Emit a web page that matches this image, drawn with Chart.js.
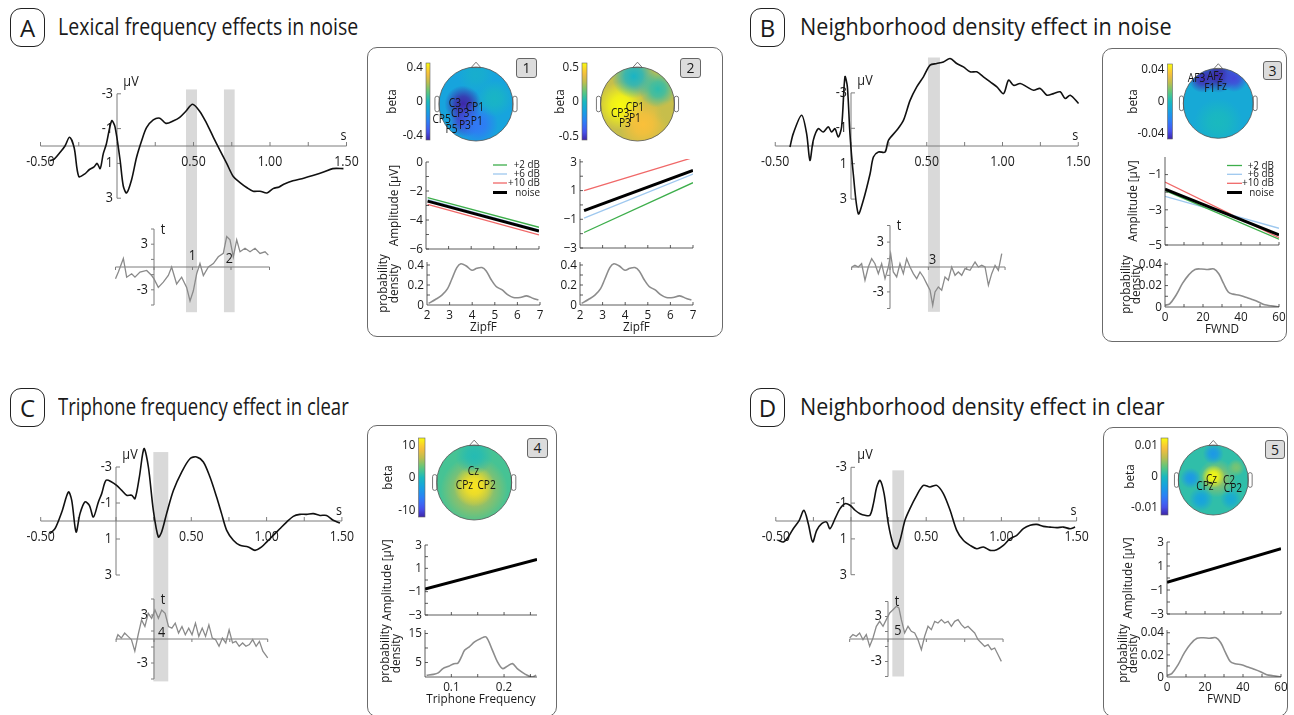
<!DOCTYPE html>
<html>
<head>
<meta charset="utf-8">
<title>ERP regression effects</title>
<script src="https://cdn.jsdelivr.net/npm/chart.js@4.4.1/dist/chart.umd.min.js"></script>
<style>
  body { margin: 0; width: 1294px; height: 715px; position: relative; overflow: hidden; background: #fff; font-family: "Open Sans", sans-serif; color: #1a1a1a; }
  canvas { position: absolute; }
  .tag { position: absolute; width: 33px; height: 37px; border: 1.4px solid #222; border-radius: 11px; font-size: 24px; line-height: 37px; text-align: center; }
  .title { position: absolute; font-size: 24px; line-height: 24px; white-space: nowrap; transform-origin: 0 50%; }
  .inset { position: absolute; border: 1.3px solid #6b6b6b; border-radius: 10px; }
  .num { position: absolute; z-index: 5; background: #dcdcdc; border: 1px solid #666; border-radius: 3px; font-size: 14px; line-height: 18px; text-align: center; }
</style>
</head>
<body>
<div class="tag" style="left:10px;top:8px">A</div>
<div class="title" id="tA" style="left:58px;top:14px">Lexical frequency effects in noise</div>
<div class="tag" style="left:750px;top:8px">B</div>
<div class="title" id="tB" style="left:800px;top:14px">Neighborhood density effect in noise</div>
<div class="tag" style="left:10px;top:388px">C</div>
<div class="title" id="tC" style="left:58px;top:394px">Triphone frequency effect in clear</div>
<div class="tag" style="left:750px;top:388px">D</div>
<div class="title" id="tD" style="left:800px;top:394px">Neighborhood density effect in clear</div>

<div class="inset" style="left:367px;top:47px;width:354px;height:288px"></div>
<div class="inset" style="left:1102px;top:48px;width:183px;height:292px"></div>
<div class="inset" style="left:367px;top:425px;width:188px;height:290px"></div>
<div class="inset" style="left:1103px;top:427px;width:183px;height:288px"></div>

<div class="num" style="left:516px;top:58px;width:19px;height:18px">1</div>
<div class="num" style="left:680px;top:58px;width:19px;height:18px">2</div>
<div class="num" style="left:1263px;top:61px;width:17px;height:17px">3</div>
<div class="num" style="left:527px;top:438px;width:19px;height:18px">4</div>
<div class="num" style="left:1265px;top:440px;width:18px;height:17px">5</div>

<script>
// ---------------- data ----------------
// ERP waveforms (s, µV)
const erpTimeA = [-0.44,-0.41,-0.37,-0.34,-0.31,-0.28,-0.25,-0.21,-0.18,-0.15,-0.13,-0.11,-0.09,-0.07,-0.035,-0.013,0.02,0.041,0.063,0.095,0.128,0.161,0.193,0.237,0.28,0.32,0.37,0.41,0.45,0.494,0.54,0.586,0.63,0.673,0.717,0.76,0.804,0.85,0.89,0.935,0.98,1.02,1.06,1.09,1.15,1.22,1.28,1.35,1.41,1.48];
const erpA = [0.85,0.75,0.35,0.0,-0.5,0.1,1.75,1.6,1.35,1.2,1.0,1.3,0.45,-0.1,-1.45,-1.1,0.8,2.3,2.7,1.95,0.65,-0.3,-1.05,-1.5,-1.6,-1.3,-1.45,-1.65,-2.0,-2.4,-2.0,-1.3,-0.5,0.25,1.0,1.75,2.1,2.4,2.6,2.6,2.7,2.45,2.35,2.2,2.0,1.85,1.7,1.5,1.3,1.3];
const erpTimeB = [-0.403,-0.381,-0.326,-0.293,-0.271,-0.249,-0.216,-0.183,-0.15,-0.128,-0.106,-0.084,-0.062,-0.04,-0.024,-0.007,0.015,0.048,0.081,0.126,0.148,0.181,0.225,0.247,0.302,0.346,0.39,0.434,0.478,0.522,0.566,0.61,0.654,0.698,0.742,0.786,0.83,0.874,0.919,0.963,1.007,1.04,1.073,1.117,1.161,1.205,1.249,1.293,1.337,1.381,1.414,1.447,1.502];
const erpB = [0.06,-0.7,-1.74,-0.7,0.81,-0.32,-0.98,-0.79,-1.08,-0.79,-0.98,-0.51,-1.08,-3.91,-3.34,-0.7,1.57,3.83,3.08,1.57,0.62,0.34,0.34,-0.32,-0.89,-1.45,-2.58,-3.34,-3.91,-4.57,-4.66,-4.75,-4.94,-4.66,-4.47,-4.19,-4.19,-3.91,-3.62,-3.34,-2.96,-3.72,-3.43,-3.53,-3.34,-3.15,-3.25,-2.87,-2.96,-3.06,-2.68,-2.87,-2.4];
const erpTimeC = [-0.438,-0.405,-0.36,-0.316,-0.294,-0.265,-0.239,-0.206,-0.177,-0.15,-0.117,-0.095,-0.066,-0.029,0.004,0.038,0.071,0.104,0.126,0.155,0.186,0.215,0.248,0.281,0.303,0.336,0.381,0.436,0.491,0.535,0.58,0.624,0.668,0.701,0.735,0.779,0.823,0.878,0.923,0.967,1.0,1.044,1.088,1.133,1.177,1.221,1.265,1.31,1.354,1.398,1.442,1.487];
const erpC = [0.7,0.43,-0.5,-1.61,-1.15,0.61,-0.41,-1.06,-0.87,-0.22,-1.06,-1.52,-2.26,-2.17,-1.98,-1.7,-1.43,-1.43,-1.24,-2.44,-4.02,-3.0,-0.59,0.89,0.61,-0.41,-1.7,-2.72,-3.46,-3.56,-3.28,-2.44,-1.33,-0.41,0.52,1.07,1.35,1.44,1.63,1.44,1.17,0.8,0.43,0.06,-0.26,-0.37,-0.37,-0.41,-0.31,-0.31,-0.04,0.11];
const erpTimeD = [-0.483,-0.45,-0.417,-0.384,-0.344,-0.313,-0.284,-0.255,-0.228,-0.195,-0.162,-0.14,-0.106,-0.073,-0.04,-0.007,0.027,0.06,0.093,0.126,0.149,0.171,0.193,0.22,0.248,0.282,0.304,0.326,0.359,0.392,0.437,0.481,0.525,0.57,0.614,0.659,0.703,0.747,0.792,0.836,0.88,0.925,0.969,1.013,1.058,1.102,1.146,1.191,1.235,1.279,1.324,1.368,1.412,1.457,1.49];
const erpD = [1.08,1.17,0.89,0.43,-0.04,-0.6,0.15,1.17,0.52,0.15,0.06,0.43,-0.13,-0.69,-0.97,-0.88,-0.6,-0.41,-0.32,-0.32,-0.97,-1.9,-2.27,-1.53,0.15,1.36,1.55,1.08,-0.04,-0.69,-1.43,-1.99,-1.9,-1.99,-1.53,-0.6,0.52,1.08,1.36,1.55,1.45,1.64,1.6,1.36,0.99,0.8,0.43,0.24,0.19,0.3,0.34,0.37,0.34,0.43,0.34];

// t-value traces (s, t)
const tTimeA = [-0.5,-0.463,-0.398,-0.355,-0.29,-0.247,-0.182,-0.095,-0.03,0,0.056,0.121,0.186,0.229,0.294,0.359,0.424,0.468,0.511,0.554,0.597,0.641,0.706,0.771,0.835,0.9,0.944,0.987,1.03,1.074,1.117,1.182,1.247,1.312,1.377,1.442,1.485];
const tA = [-1.56,-0.67,1.12,-1.34,-0.89,-1.34,-0.67,-0.45,-1.12,-1.56,-2.68,-2.0,-1.12,0,-2.23,-1.34,-2.68,-4.46,-3.13,-0.89,0.45,-1.12,0,0.45,1.34,1.79,4.0,3.57,1.34,3.57,2.0,2.46,2.0,2.46,1.79,2.0,1.56];
const tTimeB = [-0.5,-0.457,-0.413,-0.37,-0.326,-0.283,-0.239,-0.196,-0.152,-0.109,-0.065,-0.022,0.009,0.043,0.087,0.13,0.174,0.217,0.261,0.304,0.348,0.391,0.435,0.478,0.522,0.557,0.587,0.63,0.674,0.717,0.761,0.804,0.848,0.891,0.935,0.978,1.043,1.109,1.152,1.196,1.239,1.283,1.326,1.37,1.413,1.457];
const tB = [0,0.2,0,0.4,-1.6,0,1.0,0.4,-0.8,0.4,-1.4,0,1.6,-0.6,-1.2,0.4,-0.8,1.0,0,-0.8,-1.4,-0.6,-1.2,-2.0,-2.8,-4.6,-3.0,-2.4,-2.8,-1.2,-1.6,0,-1.0,-0.6,-1.0,-0.2,-0.4,0.6,0,0.2,0,-2.2,-0.8,0.2,-0.4,1.6];
const tTimeC = [-0.5,-0.476,-0.431,-0.387,-0.342,-0.298,-0.253,-0.209,-0.164,-0.12,-0.076,-0.031,0.013,0.058,0.102,0.147,0.191,0.236,0.28,0.324,0.369,0.413,0.458,0.502,0.547,0.591,0.636,0.68,0.724,0.769,0.813,0.858,0.902,0.947,0.991,1.036,1.08,1.124,1.169,1.213,1.258,1.302,1.347,1.391,1.436,1.5];
const tC = [-0.08,0.53,0.12,0.74,0.33,-0.08,-1.52,0.53,2.39,1.56,3.2,2.59,3.62,2.59,3.62,3.2,1.56,1.36,1.98,0.74,1.56,0.53,1.36,0.53,1.98,0.33,1.36,0.33,1.77,0.12,-0.08,-0.91,0.12,-0.49,1.15,-0.49,-0.29,-0.91,-0.49,-0.91,-0.7,-0.08,-0.91,-0.29,-1.52,-2.35];
const tTimeD = [-0.5,-0.457,-0.413,-0.37,-0.326,-0.283,-0.239,-0.196,-0.152,-0.109,-0.065,-0.022,0.022,0.065,0.109,0.143,0.174,0.217,0.261,0.304,0.348,0.391,0.435,0.478,0.522,0.565,0.609,0.652,0.696,0.739,0.783,0.826,0.87,0.913,0.957,1.0,1.043,1.087,1.13,1.174,1.217,1.261,1.304,1.348,1.391,1.435,1.478];
const tD = [0.13,0.58,0.36,0.8,-0.09,0.58,-0.98,0.13,1.69,2.36,1.69,2.58,3.47,3.91,4.36,4.13,2.58,0.8,1.69,1.02,0.8,-0.09,-1.42,0.36,1.69,1.24,2.36,2.13,2.58,2.13,2.36,1.69,2.36,2.58,1.91,1.47,1.69,1.24,0.8,-0.09,-0.53,-0.98,-0.76,-1.42,-1.2,-2.09,-2.98];

// significant time windows (s) and their numbers
const bandsA = [[0.451, 0.523], [0.699, 0.769]];
const bandsB = [[0.508, 0.587]];
const bandsC = [[0.248, 0.347]];
const bandsD = [[0.275, 0.353]];
const bandNamesA = ['1', '2'];
const bandNamesB = ['3'];
const bandNamesC = ['4'];
const bandNamesD = ['5'];

// ERP / t axes ticks
const erpXTicks = [-0.5,-0.25,0,0.25,0.5,0.75,1,1.25,1.5];
const erpXLabels = [-0.5, 0.5, 1, 1.5];
const erpYTicks = [-3, -1, 1, 3];
const tXTicks = [-0.5, 0, 0.5, 1, 1.5];
const tYTicks = [-5, -3, -1, 1, 3, 5];
const tYLabels = [3, -3];

// regression lines: predictor range and fitted amplitude per condition
const snrLabels = ['+2 dB', '+6 dB', '+10 dB', 'noise'];
const lp1X = [2.07, 7];
const lp1Green = [-2.45, -4.5], lp1Blue = [-2.6, -4.68], lp1Red = [-2.93, -5.03], lp1Noise = [-2.7, -4.76];
const lp2X = [2.18, 7];
const lp2Green = [-1.92, 1.55], lp2Blue = [-0.92, 2.15], lp2Red = [0.99, 3.3], lp2Noise = [-0.39, 2.4];
const lp3X = [0, 60];
const lp3Green = [-1.9, -4.67], lp3Blue = [-2.24, -4.05], lp3Red = [-1.42, -4.58], lp3Noise = [-1.82, -4.43];
const lp4X = [0.05, 0.2625];
const lp4Noise = [-0.77, 1.77];
const lp5X = [0, 60];
const lp5Noise = [-0.35, 2.44];

// predictor distributions
const zipfX = [2.07,2.37,2.66,2.91,3.1,3.32,3.5,3.74,3.99,4.21,4.43,4.62,4.82,5.06,5.31,5.6,5.82,6.12,6.41,6.71,6.93];
const zipfDens = [0.016,0.055,0.098,0.163,0.26,0.374,0.413,0.39,0.348,0.367,0.374,0.341,0.26,0.185,0.153,0.098,0.075,0.075,0.091,0.065,0.049];
const fwndX = [0,2.5,5.8,9.2,12.5,15.8,19.2,22.5,25.8,28.3,30.8,33.3,35.8,39.2,42.5,45.8,49.2,52.5,55.8,60];
const fwndDens = [0.0016,0.003,0.011,0.022,0.03,0.035,0.0355,0.035,0.0355,0.031,0.022,0.014,0.012,0.011,0.009,0.007,0.0047,0.002,0.0012,0];
const triX = [0.053,0.066,0.075,0.084,0.095,0.105,0.1125,0.119,0.125,0.134,0.144,0.156,0.166,0.178,0.1875,0.197,0.206,0.216,0.225,0.234,0.244,0.253,0.261];
const triDens = [0.6,0.9,1.4,2.9,3.7,4.6,4.8,6.9,9.2,10.4,12.1,13.3,13.8,9.2,5.2,2.9,3.7,4.6,2.9,1.7,0.6,0,0.6];

// topographies: [x, y, radius, beta] in head units, plus background beta
const map1Base = -0.1;
const map1Blobs = [[-0.35,0.0,0.5,-0.45],[-0.3,-0.45,0.45,-0.4],[0.05,-0.55,0.55,-0.25],[0.5,0.15,0.5,-0.02],[0.0,0.8,0.5,-0.05]];
const map1Elec = [['C3',-0.57,0.02],['CP3',-0.43,-0.25],['CP1',-0.03,-0.11],['CP5',-0.93,-0.43],['P5',-0.66,-0.68],['P3',-0.3,-0.59],['P1',0.02,-0.48]];
const map2Base = 0.3;
const map2Blobs = [[-0.45,-0.05,0.65,0.56],[0.15,-0.55,0.65,0.42],[-0.1,0.75,0.6,-0.03],[0.55,0.4,0.5,0.04],[0.8,-0.25,0.35,0.3]];
const map2Elec = [['CP3',-0.47,-0.25],['CP1',-0.07,-0.11],['P3',-0.34,-0.52],['P1',-0.07,-0.39]];
const map3Base = -0.008;
const map3Blobs = [[0,0.8,0.5,-0.05],[-0.45,0.7,0.4,-0.045],[0.45,0.72,0.4,-0.04],[0,-0.55,0.7,0.0]];
const map3Elec = [['AF3',-0.62,0.71],['AFz',-0.09,0.76],['F1',-0.24,0.43],['Fz',0.1,0.47]];
const map4Base = 2;
const map4Blobs = [[0,-0.2,0.9,6],[0,-0.1,0.55,11],[0,0.7,0.5,0.5]];
const map4Elec = [['Cz',-0.02,0.29],['CPz',-0.26,-0.07],['CP2',0.33,-0.07]];
const map5Base = 0.001;
const map5Blobs = [[0.1,0.05,0.55,0.005],[0,0.1,0.33,0.0124],[0,0.75,0.3,-0.004],[-0.65,0.05,0.3,-0.004],[-0.35,-0.55,0.35,-0.003],[0.5,-0.55,0.3,-0.002],[0.65,0.35,0.25,0.004]];
const map5Elec = [['Cz',-0.05,0.02],['C2',0.45,-0.03],['CPz',-0.24,-0.2],['CP2',0.56,-0.25]];

// ---------------- helpers ----------------
const SX = 0.9; // horizontal squeeze to mimic the narrow original typeface
const PARULA = [[0,[62,38,168]],[0.11,[71,84,240]],[0.24,[45,126,247]],[0.37,[22,160,226]],[0.5,[26,185,190]],[0.62,[90,199,128]],[0.75,[190,190,78]],[0.87,[250,190,60]],[1,[249,251,14]]];
function parula(f) {
  f = Math.max(0, Math.min(1, f));
  for (let i = 1; i < PARULA.length; i++) {
    if (f <= PARULA[i][0]) {
      const [f0, c0] = PARULA[i - 1], [f1, c1] = PARULA[i], k = (f - f0) / (f1 - f0);
      return c0.map((v, j) => Math.round(v + (c1[j] - v) * k));
    }
  }
  return PARULA[PARULA.length - 1][1];
}
const rgba = (c, a) => `rgba(${c[0]},${c[1]},${c[2]},${a})`;
const pts = (xs, ys) => xs.map((x, i) => ({x, y: ys[i]}));
const sc = (min, max, extra) => Object.assign({type: 'linear', display: false, bounds: 'data', min, max}, extra || {});

function T(ctx, s, x, y, o) {
  o = o || {};
  ctx.save();
  ctx.font = (o.size || 12) + 'px "Open Sans", sans-serif';
  ctx.fillStyle = o.color || '#1a1a1a';
  ctx.textAlign = o.align || 'center';
  ctx.textBaseline = o.base || 'middle';
  ctx.translate(x, y);
  if (o.rot) ctx.rotate(o.rot);
  ctx.scale(o.sx || SX, 1);
  ctx.fillText(s, 0, 0);
  ctx.restore();
}
function seg(ctx, x0, y0, x1, y1) { ctx.beginPath(); ctx.moveTo(x0, y0); ctx.lineTo(x1, y1); ctx.stroke(); }

function mk(box, pad, config) {
  const cv = document.createElement('canvas');
  const W = box.w + pad.l + pad.r, H = box.h + pad.t + pad.b;
  cv.width = W; cv.height = H;
  cv.style.left = (box.l - pad.l) + 'px'; cv.style.top = (box.t - pad.t) + 'px';
  cv.style.width = W + 'px'; cv.style.height = H + 'px';
  document.body.appendChild(cv);
  config.options = Object.assign({
    responsive: false, maintainAspectRatio: false, animation: false, events: [], devicePixelRatio: 1,
    layout: {padding: {left: pad.l, right: pad.r, top: pad.t, bottom: pad.b}}
  }, config.options);
  config.options.plugins = Object.assign({legend: {display: false}, tooltip: {enabled: false}}, config.options.plugins);
  return new Chart(cv, config);
}

// ---------------- ERP + t plot ----------------
const EF = 14;
const erpPlugin = {
  id: 'erp',
  beforeDatasetsDraw(chart, args, o) {
    const ctx = chart.ctx, {x, y, xt, yt} = chart.scales;
    ctx.save();
    ctx.fillStyle = '#d9d9d9';
    o.bands.forEach(b => {
      const x0 = x.getPixelForValue(b[0]), x1 = x.getPixelForValue(b[1]);
      const y0 = y.getPixelForValue(o.bandTop), y1 = yt.getPixelForValue(o.bandBottom);
      ctx.fillRect(x0, y0, x1 - x0, y1 - y0);
    });
    ctx.strokeStyle = '#7d7d7d'; ctx.lineWidth = 1;
    const ay = y.getPixelForValue(0), ax = x.getPixelForValue(0);
    seg(ctx, x.getPixelForValue(-0.5), ay, x.getPixelForValue(1.5), ay);
    erpXTicks.forEach(v => { const p = x.getPixelForValue(v); seg(ctx, p, ay, p, ay - 4); });
    erpXLabels.forEach(v => T(ctx, v.toFixed(2), x.getPixelForValue(v), ay + 16, {size: EF, sx: 0.88}));
    T(ctx, 's', x.getPixelForValue(1.5) - 3, ay - 10, {size: EF});
    seg(ctx, ax, y.getPixelForValue(-3), ax, y.getPixelForValue(3));
    erpYTicks.forEach(v => {
      const p = y.getPixelForValue(v);
      seg(ctx, ax, p, ax + 4, p);
      T(ctx, String(v), ax - 4, p, {size: EF, align: 'right'});
    });
    T(ctx, 'µV', ax + 14, y.getPixelForValue(-3) - 12, {size: EF});
    const ty = yt.getPixelForValue(0), tx = xt.getPixelForValue(0);
    seg(ctx, xt.getPixelForValue(-0.5), ty, xt.getPixelForValue(1.5), ty);
    tXTicks.forEach(v => { const p = xt.getPixelForValue(v); seg(ctx, p, ty, p, ty + 3); });
    seg(ctx, tx, yt.getPixelForValue(-5), tx, yt.getPixelForValue(5));
    tYTicks.forEach(v => { const p = yt.getPixelForValue(v); seg(ctx, tx, p, tx - 3, p); });
    tYLabels.forEach(v => T(ctx, String(v), tx - 6, yt.getPixelForValue(v), {size: EF, align: 'right'}));
    T(ctx, 't', tx + 9, yt.getPixelForValue(5) + 1, {size: EF});
    o.names.forEach((n, i) => T(ctx, n, xt.getPixelForValue(o.nameAt[i][0]), yt.getPixelForValue(o.nameAt[i][1]), {size: EF}));
    ctx.restore();
  }
};

function erpPanel(box, m, et, ev, tt, tv, bands, bandTop, bandBottom, names, nameAt) {
  const l = box.l, r = box.l + box.w, t = box.t, b = box.t + box.h;
  return mk(box, {l: 0, t: 0, r: 0, b: 0}, {
    type: 'scatter',
    data: {datasets: [
      {data: pts(et, ev), xAxisID: 'x', yAxisID: 'y', showLine: true, borderColor: '#111', borderWidth: 1.6, pointRadius: 0, tension: 0.3},
      {data: pts(tt, tv), xAxisID: 'xt', yAxisID: 'yt', showLine: true, borderColor: '#8a8a8a', borderWidth: 1.3, pointRadius: 0, tension: 0}
    ]},
    options: {
      scales: {
        x: sc((l - m.t0) / m.pxs, (r - m.t0) / m.pxs),
        y: sc((t - m.v0) / m.pxv, (b - m.v0) / m.pxv, {reverse: true}),
        xt: sc((l - m.tt0) / m.tpxs, (r - m.tt0) / m.tpxs, {axis: 'x'}),
        yt: sc((m.tv0 - b) / m.tpxv, (m.tv0 - t) / m.tpxv, {axis: 'y'})
      },
      plugins: {erp: {bands, bandTop, bandBottom, names, nameAt}}
    },
    plugins: [erpPlugin]
  });
}

// ---------------- small boxed plots ----------------
const FS = 13;
const boxPlugin = {
  id: 'box',
  afterDatasetsDraw(chart, args, o) {
    const ctx = chart.ctx, {x, y} = chart.scales, ca = chart.chartArea;
    const ox = chart.canvas.offsetLeft, oy = chart.canvas.offsetTop;
    ctx.save();
    ctx.strokeStyle = '#333'; ctx.lineWidth = 0.8;
    seg(ctx, ca.left, ca.top, ca.left, ca.bottom);
    seg(ctx, ca.left, ca.bottom, ca.right, ca.bottom);
    o.xTicks.forEach(v => { const p = x.getPixelForValue(v); seg(ctx, p, ca.bottom, p, ca.bottom - 3); });
    o.yTicks.forEach(v => { const p = y.getPixelForValue(v); seg(ctx, ca.left, p, ca.left + 3, p); });
    (o.xLabels || []).forEach(l => T(ctx, l[1], x.getPixelForValue(l[0]), ca.bottom + 10, {size: FS}));
    (o.yLabels || []).forEach(l => T(ctx, l[1], ca.left - 3, y.getPixelForValue(l[0]), {size: FS, align: 'right'}));
    if (o.xTitle) T(ctx, o.xTitle, (ca.left + ca.right) / 2, ca.bottom + 22, {size: FS});
    (o.yTitle || []).forEach((s, i) => T(ctx, s, ca.left - o.yTitleOff[i], (ca.top + ca.bottom) / 2, {size: FS, rot: -Math.PI / 2}));
    if (o.legend) {
      const L = o.legend;
      L.order.forEach((di, i) => {
        const ds = chart.data.datasets[di], yy = L.ys[i] - oy;
        ctx.strokeStyle = ds.borderColor; ctx.lineWidth = ds.borderWidth;
        seg(ctx, L.x0 - ox, yy, L.x1 - ox, yy);
        T(ctx, ds.label, L.tx - ox, yy, {size: 11, align: 'right'});
      });
    }
    ctx.restore();
  }
};
// order: lower values are painted last, i.e. on top
function lineDs(xs, ys, color, width, label, tension, order) {
  return {label, data: pts(xs, ys), showLine: true, borderColor: color, borderWidth: width, pointRadius: 0, tension: tension || 0, order: order || 0};
}
function subplot(box, pad, xr, yr, datasets, opts) {
  return mk(box, pad, {
    type: 'scatter',
    data: {datasets},
    options: {scales: {x: sc(xr[0], xr[1]), y: sc(yr[0], yr[1])}, plugins: {box: opts}},
    plugins: [boxPlugin]
  });
}

// ---------------- topographies ----------------
const topoPlugin = {
  id: 'topo',
  beforeDatasetsDraw(chart) {
    const ctx = chart.ctx, {x, y} = chart.scales;
    const cx = x.getPixelForValue(0), cy = y.getPixelForValue(0), R = x.getPixelForValue(1) - cx;
    ctx.save(); ctx.beginPath(); ctx.arc(cx, cy, R, 0, Math.PI * 2); ctx.clip();
  },
  afterDatasetsDraw(chart, args, o) {
    const ctx = chart.ctx, {x, y, cb} = chart.scales;
    ctx.restore();
    const ox = chart.canvas.offsetLeft;
    const cx = x.getPixelForValue(0), cy = y.getPixelForValue(0), R = x.getPixelForValue(1) - cx;
    ctx.save();
    ctx.strokeStyle = '#555'; ctx.lineWidth = 0.8; ctx.fillStyle = '#fff';
    [-1.11, 0.995].forEach(ex => {
      ctx.beginPath();
      ctx.roundRect(x.getPixelForValue(ex), y.getPixelForValue(0.21), R * 0.115, R * 0.42, 2);
      ctx.fill(); ctx.stroke();
    });
    ctx.beginPath();
    ctx.moveTo(x.getPixelForValue(-0.13), y.getPixelForValue(0.985));
    ctx.lineTo(x.getPixelForValue(0), y.getPixelForValue(1.13));
    ctx.lineTo(x.getPixelForValue(0.13), y.getPixelForValue(0.985));
    ctx.closePath(); ctx.fill(); ctx.stroke();
    ctx.beginPath(); ctx.arc(cx, cy, R, 0, Math.PI * 2); ctx.stroke();
    // colour bar
    const top = cb.getPixelForValue(o.clim), bot = cb.getPixelForValue(-o.clim), l = o.cbL - ox;
    const g = ctx.createLinearGradient(0, bot, 0, top);
    for (let i = 0; i <= 20; i++) g.addColorStop(i / 20, rgba(parula(i / 20), 1));
    ctx.fillStyle = g; ctx.fillRect(l, top, o.cbW, bot - top);
    ctx.strokeStyle = '#666'; ctx.lineWidth = 0.6; ctx.strokeRect(l, top, o.cbW, bot - top);
    o.ticks.forEach((v, i) => T(ctx, o.tickText[i], l - 3, cb.getPixelForValue(v), {size: FS, align: 'right'}));
    T(ctx, 'beta', o.betaX - ox, cb.getPixelForValue(0), {size: FS, rot: -Math.PI / 2});
    o.elec.forEach(e => T(ctx, e[0], x.getPixelForValue(e[1]), y.getPixelForValue(e[2]), {size: 12, sx: 0.85, color: '#151515'}));
    ctx.restore();
  }
};
function topo(box, head, cbar, base, blobs, elec) {
  const {cx, cy, r} = head;
  const zero = (cbar.top + cbar.bot) / 2, per = (cbar.bot - cbar.top) / (2 * cbar.clim);
  const norm = v => (v + cbar.clim) / (2 * cbar.clim);
  const radiusPx = c => {
    if (!c.raw) return 0;
    const s = c.chart.scales.x;
    const R = s.getPixelForValue(c.raw.r) - s.getPixelForValue(0);
    return isFinite(R) ? R : 0;
  };
  const blobFill = c => {
    if (!c.raw) return 'rgba(0,0,0,0)';
    const ch = c.chart, X = ch.scales.x.getPixelForValue(c.raw.x), Y = ch.scales.y.getPixelForValue(c.raw.y);
    const R = radiusPx(c), col = parula(norm(c.raw.v));
    if (!isFinite(X) || !isFinite(Y) || !(R > 0)) return rgba(col, 0);
    const g = ch.ctx.createRadialGradient(X, Y, 0, X, Y, R);
    g.addColorStop(0, rgba(col, 1)); g.addColorStop(0.4, rgba(col, 0.8)); g.addColorStop(1, rgba(col, 0));
    return g;
  };
  return mk(box, {l: 0, t: 0, r: 0, b: 0}, {
    type: 'scatter',
    data: {datasets: [
      // blobs painted over the background disc
      {data: blobs.map(b => ({x: b[0], y: b[1], r: b[2], v: b[3]})), pointRadius: radiusPx, pointBackgroundColor: blobFill, pointBorderWidth: 0, order: 0},
      {data: [{x: 0, y: 0, r: 1.05, v: base}], pointRadius: radiusPx, pointBackgroundColor: rgba(parula(norm(base)), 1), pointBorderWidth: 0, order: 1}
    ]},
    options: {
      scales: {
        x: sc((box.l - cx) / r, (box.l + box.w - cx) / r),
        y: sc((cy - box.t - box.h) / r, (cy - box.t) / r),
        cb: sc((zero - box.t - box.h) / per, (zero - box.t) / per, {axis: 'y'})
      },
      plugins: {topo: {clim: cbar.clim, cbL: cbar.l, cbW: cbar.w, ticks: cbar.ticks, tickText: cbar.text, betaX: cbar.betaX, elec}}
    },
    plugins: [topoPlugin]
  });
}

// ---------------- build ----------------
erpPanel({l: 20, t: 50, w: 345, h: 275}, {t0: 117, pxs: 153, v0: 146, pxv: 17.4, tt0: 154, tpxs: 77, tv0: 267, tpxv: 7.6},
  erpTimeA, erpA, tTimeA, tA, bandsA, -3.25, -5.95, bandNamesA, [[0.497, 1.45], [0.978, 1.1]]);
erpPanel({l: 755, t: 45, w: 345, h: 280}, {t0: 851, pxs: 151.5, v0: 146, pxv: 17.7, tt0: 890, tpxs: 76.7, tv0: 267, tpxv: 8.3},
  erpTimeB, erpB, tTimeB, tB, bandsB, -5.0, -5.4, bandNamesB, [[0.557, 0.89]]);
erpPanel({l: 20, t: 430, w: 345, h: 270}, {t0: 116, pxs: 150.6, v0: 521, pxv: 18, tt0: 154, tpxs: 75.8, tv0: 639, tpxv: 8},
  erpTimeC, erpC, tTimeC, tC, bandsC, -3.83, -5.3, bandNamesC, [[0.10, 0.75]]);
erpPanel({l: 755, t: 430, w: 345, h: 270}, {t0: 851, pxs: 150.4, v0: 521, pxv: 17.9, tt0: 888, tpxs: 76.7, tv0: 639, tpxv: 7.5},
  erpTimeD, erpD, tTimeD, tD, bandsD, -2.83, -5.0, bandNamesD, [[0.13, 1.0]]);

const GREEN = '#3dae4b', BLUE = '#9ec8ef', RED = '#f06868', BLACK = '#000';
const intTicks = [3, 4, 5, 6, 7];
const zipfLabels = [2, 3, 4, 5, 6, 7].map(v => [v, String(v)]);
const fwndTicks = [10, 20, 30, 40, 50, 60];
const fwndLabels = [[0, '0'], [20, '20'], [40, '40'], [60, '60']];
const condLines = (xs, g, b, r, n) => [
  lineDs(xs, g, GREEN, 1.3, snrLabels[0], 0, 1), lineDs(xs, b, BLUE, 1.3, snrLabels[1], 0, 1),
  lineDs(xs, r, RED, 1.3, snrLabels[2], 0, 1), lineDs(xs, n, BLACK, 3, snrLabels[3], 0, 0)];
const LPAD = {t: 24, r: 6, b: 6};
const DPAD = {t: 30, r: 10, b: 30};

// inset A
topo({l: 380, t: 50, w: 140, h: 104}, {cx: 476, cy: 104, r: 37},
  {l: 426, w: 4, top: 63, bot: 140, clim: 0.45, ticks: [0.4, 0, -0.4], text: ['0.4', '0', '-0.4'], betaX: 392}, map1Base, map1Blobs, map1Elec);
topo({l: 545, t: 50, w: 135, h: 104}, {cx: 637.5, cy: 104, r: 37},
  {l: 582, w: 5, top: 63, bot: 140, clim: 0.56, ticks: [0.5, 0, -0.5], text: ['0.5', '0', '-0.5'], betaX: 560}, map2Base, map2Blobs, map2Elec);
subplot({l: 426, t: 162, w: 113, h: 87}, Object.assign({l: 55}, LPAD), [2, 7], [-6, 0], condLines(lp1X, lp1Green, lp1Blue, lp1Red, lp1Noise),
  {xTicks: intTicks, yTicks: [-6, -5, -4, -3, -2, -1, 0], yLabels: [[0, '0'], [-2, '−2'], [-4, '−4'], [-6, '−6']],
   yTitle: ['Amplitude [µV]'], yTitleOff: [32], legend: {order: [0, 1, 2, 3], x0: 493, x1: 507, tx: 540, ys: [165, 174, 183, 192.5]}});
subplot({l: 427, t: 262, w: 113, h: 43}, Object.assign({l: 55}, DPAD), [2, 7], [0, 0.43], [lineDs(zipfX, zipfDens, '#8c8c8c', 1.6, 'density', 0.35)],
  {xTicks: intTicks, yTicks: [0.1, 0.2, 0.3, 0.4], xLabels: zipfLabels, yLabels: [[0, '0'], [0.2, '0.2'], [0.4, '0.4']], xTitle: 'ZipfF',
   yTitle: ['probability', 'density'], yTitleOff: [44, 33]});
subplot({l: 580, t: 159, w: 113, h: 89}, Object.assign({l: 20}, LPAD), [2, 7], [-3, 3.2], condLines(lp2X, lp2Green, lp2Blue, lp2Red, lp2Noise),
  {xTicks: intTicks, yTicks: [-3, -2, -1, 0, 1, 2, 3], yLabels: [[3, '3'], [1, '1'], [-1, '−1'], [-3, '−3']]});
subplot({l: 580, t: 262, w: 113, h: 43}, Object.assign({l: 25}, DPAD), [2, 7], [0, 0.43], [lineDs(zipfX, zipfDens, '#8c8c8c', 1.6, 'density', 0.35)],
  {xTicks: intTicks, yTicks: [0.1, 0.2, 0.3, 0.4], xLabels: zipfLabels, yLabels: [[0, '0'], [0.2, '0.2'], [0.4, '0.4']], xTitle: 'ZipfF'});

// inset B
topo({l: 1120, t: 50, w: 140, h: 104}, {cx: 1218.3, cy: 103.3, r: 35},
  {l: 1167.5, w: 5, top: 64, bot: 139, clim: 0.047, ticks: [0.04, 0, -0.04], text: ['0.04', '0', '-0.04'], betaX: 1133}, map3Base, map3Blobs, map3Elec);
subplot({l: 1165, t: 157, w: 114, h: 88}, Object.assign({l: 45}, LPAD), [0, 60], [-5, 0], condLines(lp3X, lp3Green, lp3Blue, lp3Red, lp3Noise),
  {xTicks: fwndTicks, yTicks: [-5, -4, -3, -2, -1], yLabels: [[-1, '−1'], [-3, '−3'], [-5, '−5']],
   yTitle: ['Amplitude [µV]'], yTitleOff: [32], legend: {order: [0, 1, 2, 3], x0: 1227, x1: 1242, tx: 1274, ys: [165.5, 174.3, 183.3, 192.5]}});
subplot({l: 1165, t: 262, w: 114, h: 45}, Object.assign({l: 45}, DPAD), [0, 60], [0, 0.042], [lineDs(fwndX, fwndDens, '#8c8c8c', 1.6, 'density', 0.35)],
  {xTicks: fwndTicks, yTicks: [0.01, 0.02, 0.03, 0.04], xLabels: fwndLabels, yLabels: [[0, '0'], [0.02, '0.02'], [0.04, '0.04']], xTitle: 'FWND',
   yTitle: ['probability', 'density'], yTitleOff: [39, 29]});

// inset C
topo({l: 375, t: 428, w: 145, h: 104}, {cx: 474.2, cy: 482.5, r: 37.5},
  {l: 418.5, w: 6.5, top: 438, bot: 517, clim: 12.2, ticks: [10, 0, -10], text: ['10', '0', '-10'], betaX: 388}, map4Base, map4Blobs, map4Elec);
subplot({l: 425, t: 545, w: 112, h: 70}, Object.assign({l: 45}, LPAD), lp4X, [-3, 3], [lineDs(lp4X, lp4Noise, BLACK, 3, 'noise')],
  {xTicks: [0.1, 0.15, 0.2, 0.25], yTicks: [-3, -2, -1, 0, 1, 2, 3], yLabels: [[3, '3'], [1, '1'], [-1, '−1'], [-3, '−3']],
   yTitle: ['Amplitude [µV]'], yTitleOff: [38]});
subplot({l: 425, t: 630, w: 112, h: 47}, Object.assign({l: 45}, DPAD), lp4X, [0, 16.2], [lineDs(triX, triDens, '#8c8c8c', 1.6, 'density', 0.3)],
  {xTicks: [0.1, 0.15, 0.2, 0.25], yTicks: [5, 10, 15], xLabels: [[0.1, '0.1'], [0.2, '0.2']], yLabels: [[5, '5'], [15, '15']], xTitle: 'Triphone Frequency',
   yTitle: ['probability', 'density'], yTitleOff: [40, 29]});

// inset D
topo({l: 1115, t: 428, w: 140, h: 100}, {cx: 1213.3, cy: 480, r: 35},
  {l: 1161, w: 7, top: 438, bot: 515, clim: 0.0124, ticks: [0.01, 0, -0.01], text: ['0.01', '0', '-0.01'], betaX: 1130}, map5Base, map5Blobs, map5Elec);
subplot({l: 1167, t: 542, w: 114, h: 72}, Object.assign({l: 45}, LPAD), lp5X, [-3, 3], [lineDs(lp5X, lp5Noise, BLACK, 3, 'noise')],
  {xTicks: fwndTicks, yTicks: [-3, -2, -1, 0, 1, 2, 3], yLabels: [[3, '3'], [1, '1'], [-1, '−1'], [-3, '−3']],
   yTitle: ['Amplitude [µV]'], yTitleOff: [39]});
subplot({l: 1167, t: 630, w: 114, h: 47}, Object.assign({l: 50}, DPAD), lp5X, [0, 0.0425], [lineDs(fwndX, fwndDens, '#8c8c8c', 1.6, 'density', 0.35)],
  {xTicks: fwndTicks, yTicks: [0.01, 0.02, 0.03, 0.04], xLabels: fwndLabels, yLabels: [[0, '0'], [0.02, '0.02'], [0.04, '0.04']], xTitle: 'FWND',
   yTitle: ['probability', 'density'], yTitleOff: [44, 34]});

// squeeze titles to the width they take in the original
[['tA', 300], ['tB', 372], ['tC', 291], ['tD', 365]].forEach(([id, w]) => {
  const el = document.getElementById(id);
  el.style.transform = `scaleX(${w / el.offsetWidth})`;
});
</script>
</body>
</html>
